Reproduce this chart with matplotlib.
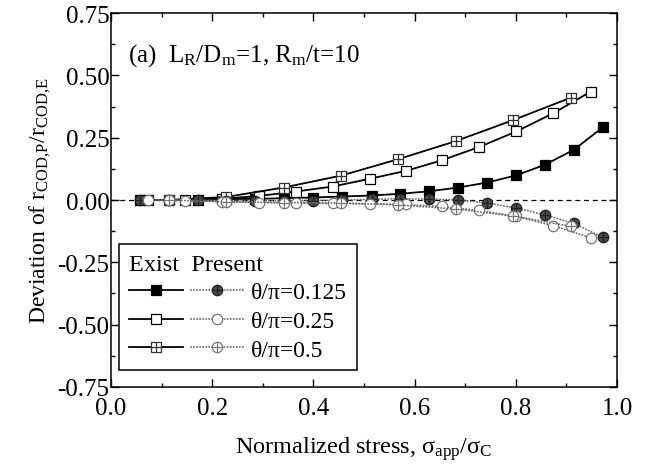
import matplotlib
matplotlib.use("Agg")
import matplotlib.pyplot as plt
import numpy as np
from matplotlib.path import Path
from matplotlib.legend_handler import HandlerTuple

plt.rcParams['font.family'] = ['Liberation Serif', 'DejaVu Serif']
plt.rcParams['mathtext.fontset'] = 'stix'
plt.rcParams['mathtext.default'] = 'regular'

# data
x_125 = [0.057, 0.114, 0.171, 0.228, 0.285, 0.342, 0.399, 0.457, 0.515, 0.572,
         0.629, 0.686, 0.743, 0.801, 0.858, 0.915, 0.972]
exist_125 = [0.0, 0.0, 0.0, 0.003, 0.005, 0.007, 0.010, 0.014, 0.018, 0.025,
             0.035, 0.050, 0.070, 0.099, 0.142, 0.202, 0.292]
present_125 = [0.0, 0.0, 0.0, -0.002, -0.003, -0.003, -0.002, 0.0, 0.003, 0.005,
               0.004, 0.0, -0.012, -0.032, -0.060, -0.094, -0.150]

x_25 = [0.073, 0.146, 0.219, 0.292, 0.365, 0.438, 0.511, 0.583, 0.655, 0.728,
        0.801, 0.874, 0.948]
exist_25 = [0.0, 0.0, 0.005, 0.016, 0.034, 0.054, 0.085, 0.117, 0.160, 0.213,
            0.275, 0.348, 0.435]
present_25 = [0.0, -0.002, -0.006, -0.010, -0.012, -0.014, -0.015, -0.018, -0.026,
              -0.042, -0.066, -0.103, -0.152]

x_5 = [0.114, 0.227, 0.341, 0.455, 0.568, 0.681, 0.794, 0.908]
exist_5 = [0.0, 0.012, 0.050, 0.098, 0.164, 0.236, 0.320, 0.410]
present_5 = [0.0, -0.008, -0.010, -0.012, -0.020, -0.036, -0.064, -0.105]

labels = ['θ/π=0.125', 'θ/π=0.25', 'θ/π=0.5']

# composite markers: square with cross, circle with cross
cross = Path([(0, -1), (0, 1), (-1, 0), (1, 0)],
             [Path.MOVETO, Path.LINETO, Path.MOVETO, Path.LINETO])
sq = Path([(-1, -1), (1, -1), (1, 1), (-1, 1), (-1, -1)],
          [Path.MOVETO, Path.LINETO, Path.LINETO, Path.LINETO, Path.CLOSEPOLY])
sq_cross = Path.make_compound_path(sq, cross)
circ_cross = Path.make_compound_path(Path.unit_circle(), cross)

fig = plt.figure(figsize=(6.46, 4.77), dpi=100)
ax = fig.add_axes([0.1718, 0.1866, 0.7834, 0.784])

ax.axhline(0, color='black', linestyle=(0, (4, 3)), linewidth=0.9, zorder=1)

solid = dict(color='black', linewidth=1.3, markersize=7.5, markeredgewidth=0.9)
dotted = dict(color='#6a6a6a', linestyle=(0, (1.2, 0.8)), linewidth=1.1,
              markersize=7.5, markeredgewidth=0.9)

e1, = ax.plot(x_125, exist_125, marker='s', markerfacecolor='black',
              markeredgecolor='black', **solid)
e2, = ax.plot(x_25, exist_25, marker='s', markerfacecolor='white',
              markeredgecolor='black', **solid)
e3, = ax.plot(x_5, exist_5, marker=sq_cross, markerfacecolor='white',
              markeredgecolor='#333333', **solid)
p1, = ax.plot(x_125, present_125, marker=circ_cross, markerfacecolor='#4a4a4a',
              markeredgecolor='#222222', **dotted)
p2, = ax.plot(x_25, present_25, marker='o', markerfacecolor='white',
              markeredgecolor='#777777', **dotted)
p3, = ax.plot(x_5, present_5, marker=circ_cross, markerfacecolor='white',
              markeredgecolor='#777777', **dotted)

ax.set_xlim(0, 1.0)
ax.set_ylim(-0.75, 0.75)
ax.set_xticks(np.arange(0, 1.01, 0.2))
ax.set_xticks(np.arange(0, 1.01, 0.1), minor=True)
ax.set_yticks(np.arange(-0.75, 0.76, 0.25))
ax.set_yticks(np.arange(-0.75, 0.76, 0.125), minor=True)
ax.xaxis.set_major_formatter(plt.FormatStrFormatter('%.1f'))
ax.yaxis.set_major_formatter(plt.FormatStrFormatter('%.2f'))
ax.tick_params(which='both', direction='in', top=True, right=True, labelsize=18)
ax.tick_params(which='major', length=6, width=1)
ax.tick_params(which='minor', length=3, width=1)
ax.tick_params(axis='x', pad=7)
ax.tick_params(axis='y', pad=1)
for s in ax.spines.values():
    s.set_linewidth(1.1)

ax.set_xlabel(r'Normalized stress, $\sigma_{app}/\sigma_{C}$', fontsize=17.5, labelpad=11)
ax.set_ylabel(r'Deviation of r$_{COD{,}P}$/r$_{COD{,}E}$', fontsize=17, labelpad=3)

ax.text(0.034, 0.89, r'(a)  L$_R$/D$_m$=1, R$_m$/t=10', transform=ax.transAxes,
        fontsize=18, va='center', ha='left')

leg = ax.legend([(e1, p1), (e2, p2), (e3, p3)], labels,
                handler_map={tuple: HandlerTuple(ndivide=None, pad=0.3)},
                loc='lower left', bbox_to_anchor=(0.016, 0.045),
                title='Exist  Present', title_fontsize=17.5, fontsize=17,
                handlelength=4.9, handletextpad=0.3, labelspacing=0.3,
                borderpad=0.4, borderaxespad=0, alignment='left',
                fancybox=False, framealpha=1, edgecolor='black')
leg.get_frame().set_linewidth(1.1)

fig.savefig('out.png', dpi=100)
